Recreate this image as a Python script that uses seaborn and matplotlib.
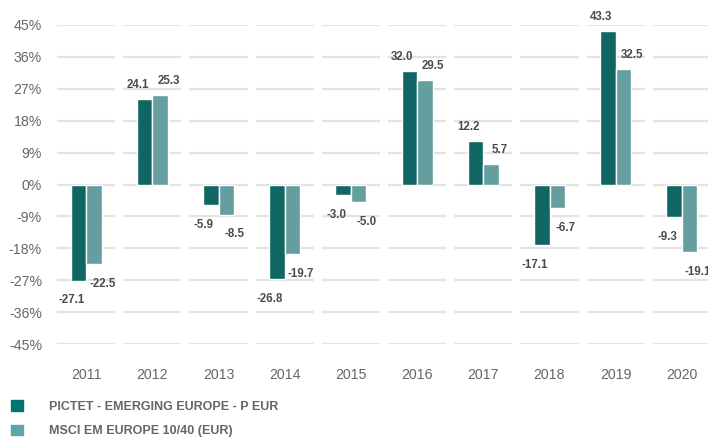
import pandas as pd
import matplotlib
matplotlib.use("Agg")
import matplotlib.pyplot as plt
import seaborn as sns
from matplotlib.patches import Patch

# ============= data =============
years = ["2011", "2012", "2013", "2014", "2015", "2016", "2017", "2018", "2019", "2020"]
fund_name = "PICTET - EMERGING EUROPE - P EUR"
index_name = "MSCI EM EUROPE 10/40 (EUR)"
fund_values = [-27.1, 24.1, -5.9, -26.8, -3.0, 32.0, 12.2, -17.1, 43.3, -9.3]
index_values = [-22.5, 25.3, -8.5, -19.7, -5.0, 29.5, 5.7, -6.7, 32.5, -19.1]
y_ticks = [-45, -36, -27, -18, -9, 0, 9, 18, 27, 36, 45]

dark = "#00756F"
light = "#5BA7A7"

df = pd.DataFrame({
    "Year": years * 2,
    "Series": [fund_name] * len(years) + [index_name] * len(years),
    "Value": fund_values + index_values,
})

sns.set_theme(style="white")
plt.rcParams['font.family'] = ['Liberation Sans', 'DejaVu Sans']

fig = plt.figure(figsize=(7.08, 4.37), dpi=100)
ax = fig.add_axes([53 / 708, 93 / 437, 662 / 708, 319 / 437])

sns.barplot(data=df, x="Year", y="Value", hue="Series", palette=[dark, light],
            width=0.47, gap=0, legend=False, ax=ax, zorder=2)

# segmented grid lines, one piece per year
for yv in y_ticks:
    for i in range(len(years)):
        ax.hlines(yv, i - 0.44, i + 0.44, color="#e3e3e3", lw=1.6, zorder=0)

ax.set_ylim(-45, 45)
ax.set_xlim(-0.5, len(years) - 0.5)
ax.set_yticks(y_ticks)
ax.set_yticklabels([f"{v}%" for v in y_ticks])
ax.set_xlabel("")
ax.set_ylabel("")
ax.tick_params(axis="y", length=0, pad=8, labelsize=10.2, colors="#666666")
ax.tick_params(axis="x", length=0, pad=17, labelsize=10.2, colors="#666666")
for s in ax.spines.values():
    s.set_visible(False)

# value labels
offsets = [-5, 6]
for k, cont in enumerate(ax.containers):
    for bar in cont:
        h = bar.get_height()
        xc = bar.get_x() + bar.get_width() / 2
        dy = 10 if h >= 0 else -14
        ax.annotate(f"{h:.1f}", (xc, h), xytext=(offsets[k], dy), textcoords="offset points",
                    ha="center", va="center", fontsize=8.3, fontweight="bold", color="#4a4a4a")

handles = [Patch(color=dark), Patch(color=light)]
fig.legend(handles, [fund_name, index_name], loc="upper left",
           bbox_to_anchor=(0, 1 - 389 / 437), frameon=False,
           handlelength=0.9, handleheight=0.9, handletextpad=2.1, labelspacing=0.95,
           prop={"size": 9, "weight": "bold"}, labelcolor="#666666")

plt.savefig("out.png", dpi=100)
